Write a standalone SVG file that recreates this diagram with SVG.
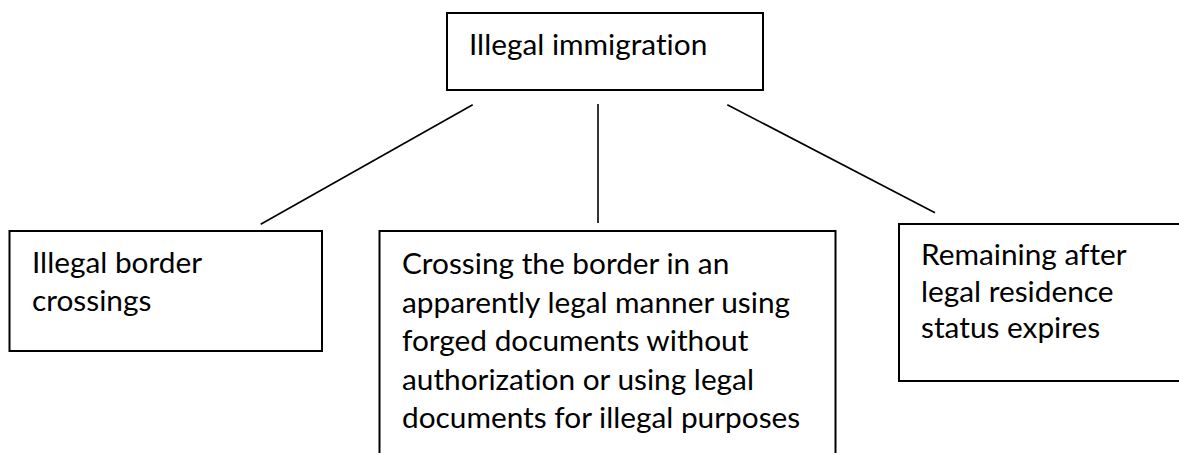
<svg xmlns="http://www.w3.org/2000/svg" width="1179" height="453" viewBox="0 0 1179 453">
<style>
.box{fill:#fff;stroke:#000;stroke-width:2}
.t{font-family:Lato,"Open Sans","Liberation Sans",sans-serif;font-size:29.8px;fill:#000;font-variant-ligatures:none;font-feature-settings:"liga" 0,"dlig" 0}
.c{stroke:#000;stroke-width:1.6;fill:none}
</style>
<rect width="1179" height="453" fill="#fff"/>
<g id="connectors">
<line class="c" x1="472.7" y1="104.7" x2="260.7" y2="224.3"/>
<line class="c" x1="598" y1="104" x2="598" y2="223"/>
<line class="c" x1="727.3" y1="104.7" x2="935" y2="212.7"/>
</g>
<g id="root">
<rect class="box" x="447" y="13" width="316" height="77"/>
<text class="t" x="469" y="55">Illegal immigration</text>
</g>
<g id="border">
<rect class="box" x="9.5" y="231" width="312.5" height="120"/>
<text class="t" x="32" y="273">Illegal border</text>
<text class="t" x="32" y="311">crossings</text>
</g>
<g id="documents">
<path class="box" d="M379.5 460 V231 H835.5 V460"/>
<text class="t" x="402" y="274">Crossing the border in an</text>
<text class="t" x="402" y="312.5">apparently legal manner using</text>
<text class="t" x="402" y="351">forged documents without</text>
<text class="t" x="402" y="389.5">authorization or using legal</text>
<text class="t" x="402" y="428">documents for illegal purposes</text>
</g>
<g id="overstay">
<path class="box" d="M1185 224 H899 V381 H1185"/>
<text class="t" x="921" y="265">Remaining after</text>
<text class="t" x="921" y="302">legal residence</text>
<text class="t" x="921" y="338">status expires</text>
</g>
</svg>
